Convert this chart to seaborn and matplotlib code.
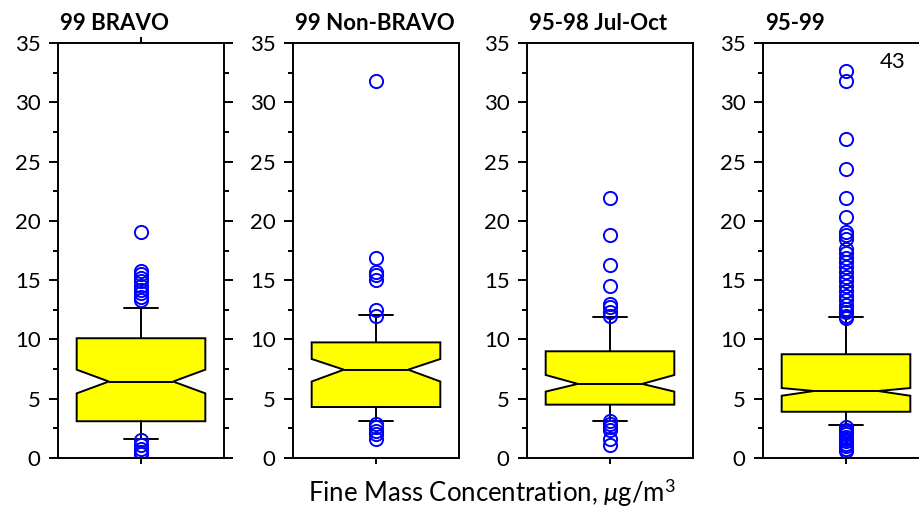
import matplotlib
matplotlib.use("Agg")
import matplotlib.pyplot as plt
from matplotlib.ticker import MultipleLocator
import seaborn as sns

# ---- data ----
panel_titles = ["99 BRAVO", "99 Non-BRAVO", "95-98 Jul-Oct", "95-99"]
q1 = [3.1, 4.3, 4.5, 3.9]
median = [6.45, 7.45, 6.25, 5.65]
q3 = [10.1, 9.75, 9.0, 8.75]
whisker_low = [1.6, 3.1, 3.1, 2.75]
whisker_high = [12.65, 12.1, 11.9, 11.9]
notch_low = [5.45, 6.45, 5.6, 5.25]
notch_high = [7.45, 8.35, 7.0, 5.9]
fliers_bravo = [19.1, 15.8, 15.5, 15.2, 14.9, 14.5, 14.2, 13.9, 13.6, 13.3,
                1.5, 1.1, 0.8, 0.5, 0.3]
fliers_nonbravo = [31.8, 16.9, 15.7, 15.4, 15.0, 12.5, 12.0,
                   2.9, 2.6, 2.3, 2.0, 1.6]
fliers_9598 = [21.9, 18.8, 16.3, 14.5, 13.0, 12.7, 12.3, 12.0,
               3.1, 2.9, 2.6, 2.4, 1.6, 1.1]
fliers_9599 = [32.6, 31.8, 26.9, 24.4, 21.9, 20.3, 19.1, 18.8, 18.5, 17.6,
               17.3, 16.9, 16.5, 16.1, 15.7, 15.3, 14.9, 14.5, 14.1, 13.7,
               13.3, 12.9, 12.6, 12.3, 12.0, 11.8,
               2.6, 2.4, 2.2, 2.0, 1.8, 1.6, 1.4, 1.2, 1.0, 0.8, 0.6]
fliers = [fliers_bravo, fliers_nonbravo, fliers_9598, fliers_9599]
offscale_note = "43"
xlabel_text = r"Fine Mass Concentration, $\mu$g/m$^3$"

# ---- style ----
sns.set_theme(style="ticks")
plt.rcParams["font.family"] = ["Lato", "DejaVu Sans"]
plt.rcParams["text.color"] = "black"
plt.rcParams["axes.labelcolor"] = "black"
plt.rcParams["mathtext.fontset"] = "custom"
plt.rcParams["mathtext.rm"] = "Lato"
plt.rcParams["mathtext.it"] = "Lato:italic"

fig = plt.figure(figsize=(9.2, 5.16), dpi=100)
lefts = [58, 293, 527, 763]
W, H = 920.0, 516.0
ax_w = 166 / W
ax_b = (H - 458) / H
ax_h = (458 - 43) / H

for i in range(4):
    ax = fig.add_axes([lefts[i] / W, ax_b, ax_w, ax_h])
    stats = [dict(med=median[i], q1=q1[i], q3=q3[i],
                  whislo=whisker_low[i], whishi=whisker_high[i],
                  cilo=notch_low[i], cihi=notch_high[i],
                  fliers=fliers[i], label="")]
    ax.bxp(stats, positions=[0], widths=0.775, capwidths=0.21,
           shownotches=True, patch_artist=True,
           boxprops=dict(facecolor="#ffff00", edgecolor="black", linewidth=1.4),
           medianprops=dict(color="black", linewidth=1.4),
           whiskerprops=dict(color="black", linewidth=1.4),
           capprops=dict(color="black", linewidth=1.4),
           flierprops=dict(marker="o", markerfacecolor="none",
                           markeredgecolor="#0000ff", markersize=9.5,
                           markeredgewidth=1.4, linestyle="none"))
    ax.set_xlim(-0.5, 0.5)
    ax.set_ylim(0, 35)
    ax.set_xticks([0])
    ax.set_xticklabels([])
    ax.yaxis.set_major_locator(MultipleLocator(5))
    ax.yaxis.set_minor_locator(MultipleLocator(2.5))
    for s in ax.spines.values():
        s.set_linewidth(1.4)
        s.set_color("black")
    ax.tick_params(axis="y", which="major", direction="out", length=6.5,
                   width=1.4, labelsize=16, pad=6, colors="black")
    ax.tick_params(axis="y", which="minor", direction="out", length=3.5,
                   width=1.4, colors="black")
    ax.tick_params(axis="x", which="major", direction="out", length=4.5,
                   width=1.4, colors="black")
    if i == 0:
        ax.tick_params(axis="y", which="both", right=True, labelright=False)
        ax.tick_params(axis="x", top=True, labeltop=False)
    ax.set_title(panel_titles[i], loc="left", fontsize=16,
                 fontweight="bold", pad=9, x=0.01, color="black")
    ax.grid(False)
    if i == 3:
        ax.text(0.78, 33.4, offscale_note, transform=ax.get_yaxis_transform(),
                ha="center", va="center", fontsize=16, color="black")

fig.text(492 / W, 1 - 493 / H, xlabel_text, ha="center", va="center",
         fontsize=18.5, color="black")

fig.savefig("out.png", dpi=100)
